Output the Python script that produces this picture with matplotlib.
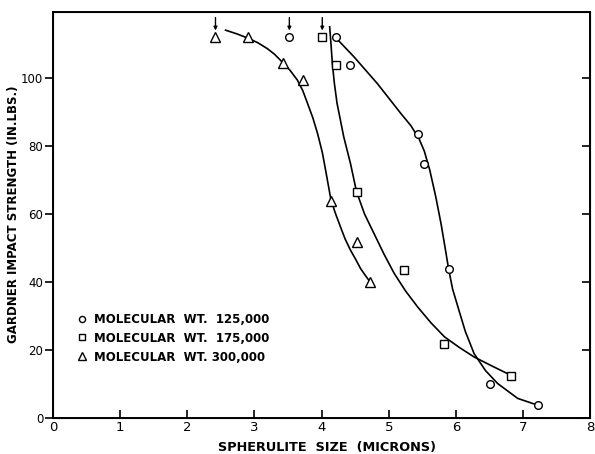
import matplotlib.pyplot as plt

# measured points, spherulite size (microns) vs impact strength (in. lbs.)
mw125_x = [3.52, 4.22, 4.42, 5.43, 5.53, 5.89, 6.51, 7.22]
mw125_y = [112, 112, 104, 83.5, 74.7, 43.9, 10, 3.8]
mw175_x = [4.01, 4.22, 4.52, 5.23, 5.82, 6.82]
mw175_y = [112, 104, 66.5, 43.5, 21.7, 12.5]
mw300_x = [2.42, 2.91, 3.42, 3.72, 4.14, 4.52, 4.72]
mw300_y = [112, 112, 104.5, 99.5, 63.8, 51.9, 40.1]

# points with an arrow above them (value off scale)
arrow_x = [2.42, 3.52, 4.01]
arrow_y = [112, 112, 112]

# hand-drawn trend curves
curve125_x = [4.22, 4.48, 4.83, 5.18, 5.33, 5.45, 5.53, 5.61, 5.70, 5.78, 5.84, 5.89,
              5.95, 6.03, 6.14, 6.27, 6.44, 6.62, 6.92, 7.22]
curve125_y = [111.7, 106.3, 98.4, 89.6, 86.0, 82.2, 78.5, 73.0, 65.1, 57.0, 50.0, 44,
              38.0, 32.7, 25.5, 19, 14.0, 10.2, 5.8, 3.8]
curve175_x = [4.12, 4.14, 4.16, 4.19, 4.23, 4.33, 4.43, 4.52, 4.64, 4.78, 4.93, 5.08,
              5.25, 5.43, 5.63, 5.83, 6.05, 6.27, 6.55, 6.82]
curve175_y = [115.1, 110.0, 104.3, 98.5, 92.6, 82.7, 74.9, 66.6, 60.0, 54.3, 48.2, 42.6,
              37.4, 32.7, 28.0, 23.9, 20.8, 18, 15.2, 12.6]
curve300_x = [2.57, 2.74, 2.91, 3.05, 3.19, 3.30, 3.41, 3.53, 3.64, 3.72, 3.79, 3.87,
              3.94, 4.01, 4.06, 4.14, 4.21, 4.28, 4.35, 4.43, 4.51, 4.58, 4.65, 4.72]
curve300_y = [114.1, 113.0, 111.7, 110.4, 108.7, 107.0, 104.8, 102.3, 99.4, 96.3, 92.6, 88.3,
              83.7, 78.2, 72.9, 64.1, 60.0, 56.3, 52.7, 49.4, 46.6, 44, 42.0, 40.1]

labels = ["MOLECULAR  WT.  125,000", "MOLECULAR  WT.  175,000", "MOLECULAR  WT. 300,000"]

fig = plt.figure(figsize=(5.95, 4.54), dpi=100)
ax = fig.add_axes([0.089, 0.079, 0.903, 0.895])

lw = 1.2
ax.plot(curve125_x, curve125_y, color="black", lw=lw)
ax.plot(curve175_x, curve175_y, color="black", lw=lw)
ax.plot(curve300_x, curve300_y, color="black", lw=lw)

mk = dict(linestyle="none", markerfacecolor="white", markeredgecolor="black", markeredgewidth=1.0)
h1, = ax.plot(mw125_x, mw125_y, marker="o", markersize=5.5, label=labels[0], **mk)
h2, = ax.plot(mw175_x, mw175_y, marker="s", markersize=5.3, label=labels[1], **mk)
h3, = ax.plot(mw300_x, mw300_y, marker="^", markersize=7.5, label=labels[2], **mk)

for x, y in zip(arrow_x, arrow_y):
    ax.annotate("", xy=(x, y + 2.0), xytext=(x, y + 5.8),
                arrowprops=dict(arrowstyle="-|>", color="black", lw=1.0,
                                mutation_scale=5, shrinkA=0, shrinkB=0))

ax.set_xlim(0, 8)
ax.set_ylim(0, 119.5)
ax.set_xticks(range(0, 9))
ax.set_yticks(range(0, 101, 20))

ax.tick_params(axis="x", direction="in", length=6, width=1.2, labelsize=9.5, pad=2)
ax.tick_params(axis="y", direction="out", length=6, width=1.2, labelsize=8.5, pad=1)
for spine in ax.spines.values():
    spine.set_linewidth(1.4)

# inward ticks on the right-hand side
axr = ax.twinx()
axr.set_ylim(ax.get_ylim())
axr.set_yticks(range(0, 101, 20))
axr.tick_params(axis="y", direction="in", length=6, width=1.2, labelright=False)

ax.set_xlabel("SPHERULITE  SIZE  (MICRONS)", fontsize=9.3, fontweight="bold", va="center")
ax.xaxis.set_label_coords(0.51, -0.072)
ax.set_ylabel("GARDNER IMPACT STRENGTH (IN.LBS.)", fontsize=8.5, fontweight="bold", va="center")
ax.yaxis.set_label_coords(-0.074, 0.502)

leg = ax.legend(handles=[h1, h2, h3], loc="upper left", bbox_to_anchor=(0.035, 0.274),
                frameon=False, fontsize=8.5, handlelength=0.8, handletextpad=0.6,
                labelspacing=0.5, borderpad=0, markerscale=0.8)
for t in leg.get_texts():
    t.set_fontweight("bold")

fig.savefig("out.png", dpi=100)
